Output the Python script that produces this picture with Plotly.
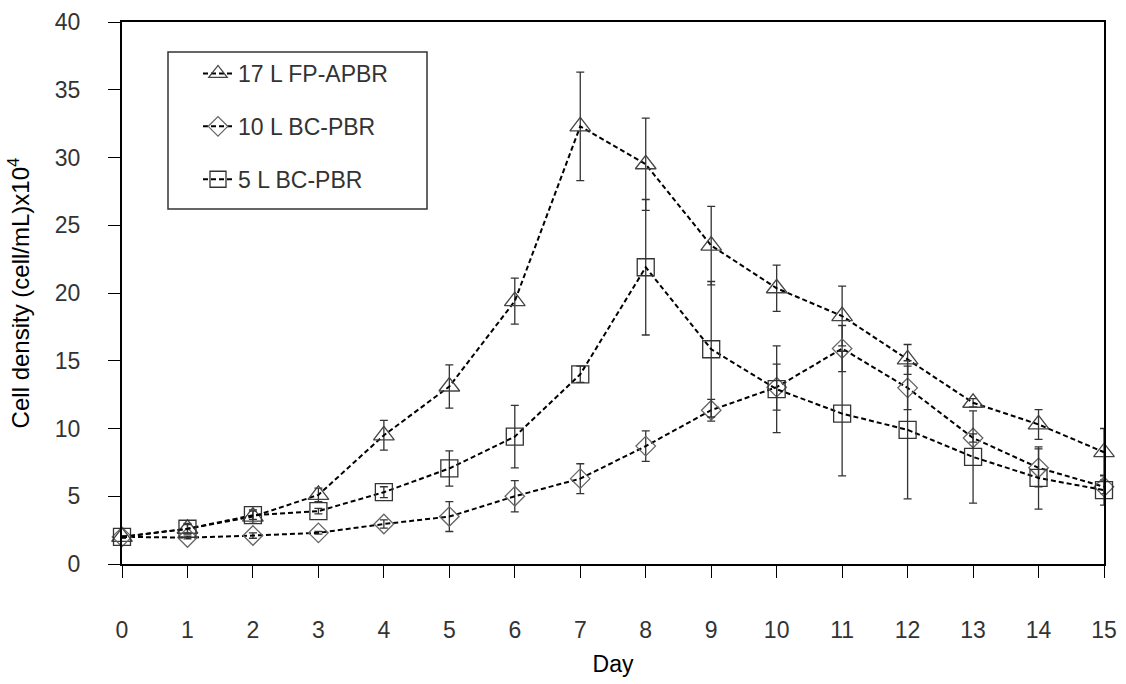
import plotly.graph_objects as go

days = list(range(16))
tick_labels = [str(d) for d in days]

fp17_vals = [2.0, 2.6, 3.5, 5.1, 9.5, 13.1, 19.4, 32.3, 29.5, 23.5, 20.35, 18.3, 15.1, 11.9, 10.3, 8.25]
fp17_err = [0.1, 0.4, 0.5, 0.5, 1.1, 1.6, 1.7, 4.0, 3.4, 2.9, 1.7, 2.2, 1.1, 0.3, 1.1, 1.75]

bc10_vals = [2.0, 1.95, 2.1, 2.3, 2.95, 3.5, 5.0, 6.3, 8.7, 11.35, 13.05, 15.9, 13.0, 9.3, 7.1, 5.7]
bc10_err = [0.1, 0.1, 0.2, 0.1, 0.3, 1.1, 1.15, 1.1, 1.13, 0.8, 1.7, 1.7, 1.6, 0.3, 1.4, 0.5]

bc5_vals = [2.0, 2.6, 3.6, 3.9, 5.3, 7.05, 9.4, 14.0, 21.9, 15.85, 12.9, 11.1, 9.9, 7.9, 6.35, 5.45]
bc5_err = [0.1, 0.3, 0.3, 0.2, 0.4, 1.3, 2.3, 0.6, 5.0, 5.0, 3.2, 4.6, 5.1, 3.4, 2.3, 1.1]

series = [
    ("17 L FP-APBR", fp17_vals, fp17_err, "triangle-up-open", 18, "#444444"),
    ("10 L BC-PBR", bc10_vals, bc10_err, "diamond-open", 15, "#666666"),
    ("5 L BC-PBR", bc5_vals, bc5_err, "square-open", 17, "#333333"),
]

fig = go.Figure()
for i, (name, vals, err, sym, sz, mc) in enumerate(series):
    fig.add_trace(go.Scatter(
        x=days, y=vals, name=name, mode="lines+markers",
        legendgroup="g%d" % i,
        line=dict(color="black", width=2, dash="5px,3px"),
        marker=dict(symbol=sym, size=sz, color=mc, line=dict(width=1.3, color=mc)),
        error_y=dict(type="data", array=err, visible=True, color="#333333", thickness=1.3, width=4),
        cliponaxis=False,
    ))

# legend frame (drawn as a box around the legend)
fig.add_shape(type="rect", xref="paper", yref="paper",
              x0=(168 - 122) / 982, x1=(427 - 122) / 982,
              y0=(564 - 209) / 542, y1=(564 - 52) / 542,
              line=dict(color="#333333", width=1.5), fillcolor="white", layer="below")

fig.update_layout(
    width=1126, height=684,
    margin=dict(l=122, r=22, t=22, b=120),
    paper_bgcolor="white", plot_bgcolor="white",
    font=dict(family="Liberation Sans, Arial, sans-serif", size=23, color="#333333"),
    showlegend=True,
    legend=dict(
        x=(198 - 122) / 982, y=(564 - 52) / 542, xanchor="left", yanchor="top",
        borderwidth=0, bgcolor="rgba(0,0,0,0)",
        font=dict(size=23, color="#333333"),
        traceorder="grouped", tracegroupgap=20,
    ),
    xaxis=dict(
        range=[0, 15], tickvals=days, ticktext=tick_labels, automargin=False,
        showline=True, linecolor="black", linewidth=2, mirror=True,
        ticks="outside", ticklen=12, tickcolor="black", tickwidth=1,
        ticklabelstandoff=32, showgrid=False, zeroline=False,
        title=dict(text="Day", font=dict(size=23, color="black"), standoff=14),
        tickfont=dict(size=23, color="#333333"),
    ),
    yaxis=dict(
        range=[0, 40], tickvals=[0, 5, 10, 15, 20, 25, 30, 35, 40], automargin=False,
        showline=True, linecolor="black", linewidth=2, mirror=True,
        ticks="outside", ticklen=12, tickcolor="black", tickwidth=1,
        ticklabelstandoff=23, showgrid=False, zeroline=False,
        title=dict(text="Cell density (cell/mL)x10<sup>4</sup>", font=dict(size=24, color="black"), standoff=18),
        tickfont=dict(size=23, color="#333333"),
    ),
)

fig.write_html("out.html")
